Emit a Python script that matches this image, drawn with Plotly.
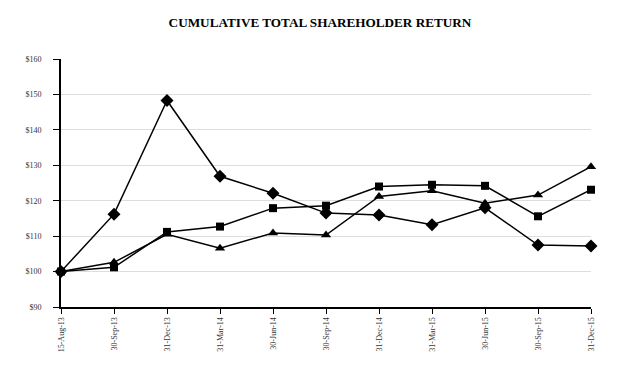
import plotly.graph_objects as go

categories = ["15-Aug-13", "30-Sep-13", "31-Dec-13", "31-Mar-14", "30-Jun-14", "30-Sep-14",
              "31-Dec-14", "31-Mar-15", "30-Jun-15", "30-Sep-15", "31-Dec-15"]
diamond_vals = [100, 116.2, 148.3, 126.9, 122.1, 116.5, 116.0, 113.2, 118.0, 107.5, 107.2]
square_vals = [100, 101.2, 111.2, 112.7, 117.9, 118.6, 124.0, 124.5, 124.2, 115.6, 123.1]
triangle_vals = [100, 102.6, 110.5, 106.6, 110.9, 110.3, 121.2, 122.8, 119.3, 121.6, 129.6]
y_ticks = [90, 100, 110, 120, 130, 140, 150, 160]
y_tick_text = ["$" + str(v) for v in y_ticks]

x = list(range(len(categories)))

fig = go.Figure()
for vals, sym, size in [(diamond_vals, "diamond", 10), (square_vals, "square", 8), (triangle_vals, "triangle-up", 9)]:
    fig.add_trace(go.Scatter(
        x=x, y=vals, mode="lines+markers",
        line=dict(color="black", width=1.5),
        marker=dict(symbol=sym, size=size, color="black"),
        cliponaxis=False, showlegend=False))

fig.update_layout(
    width=624, height=381,
    margin=dict(l=53, r=41, t=51, b=82),
    paper_bgcolor="white", plot_bgcolor="white",
    font=dict(family="Liberation Serif, Times New Roman, serif", color="black", size=8),
    title=dict(text="<b>CUMULATIVE TOTAL SHAREHOLDER RETURN</b>", x=0.5, xanchor="center",
               y=1 - 14 / 381, yanchor="middle",
               font=dict(family="Liberation Serif, Times New Roman, serif", size=13.2, color="black")),
)
fig.update_xaxes(
    range=[0, 10], tickvals=x, ticktext=categories, tickangle=-90,
    showgrid=False, zeroline=False, showline=True, linecolor="black", linewidth=2,
    ticks="outside", ticklen=5, tickcolor="black", tickwidth=1,
    tickfont=dict(size=8, color="#333"))
fig.update_yaxes(
    range=[90, 160], tickvals=y_ticks, ticktext=y_tick_text,
    showgrid=True, gridcolor="#dddddd", gridwidth=1, zeroline=False,
    showline=True, linecolor="black", linewidth=2,
    ticks="outside", ticklen=6, tickcolor="black", tickwidth=1,
    tickfont=dict(size=8, color="#333"), ticklabelstandoff=10)

fig.write_html("out.html")
